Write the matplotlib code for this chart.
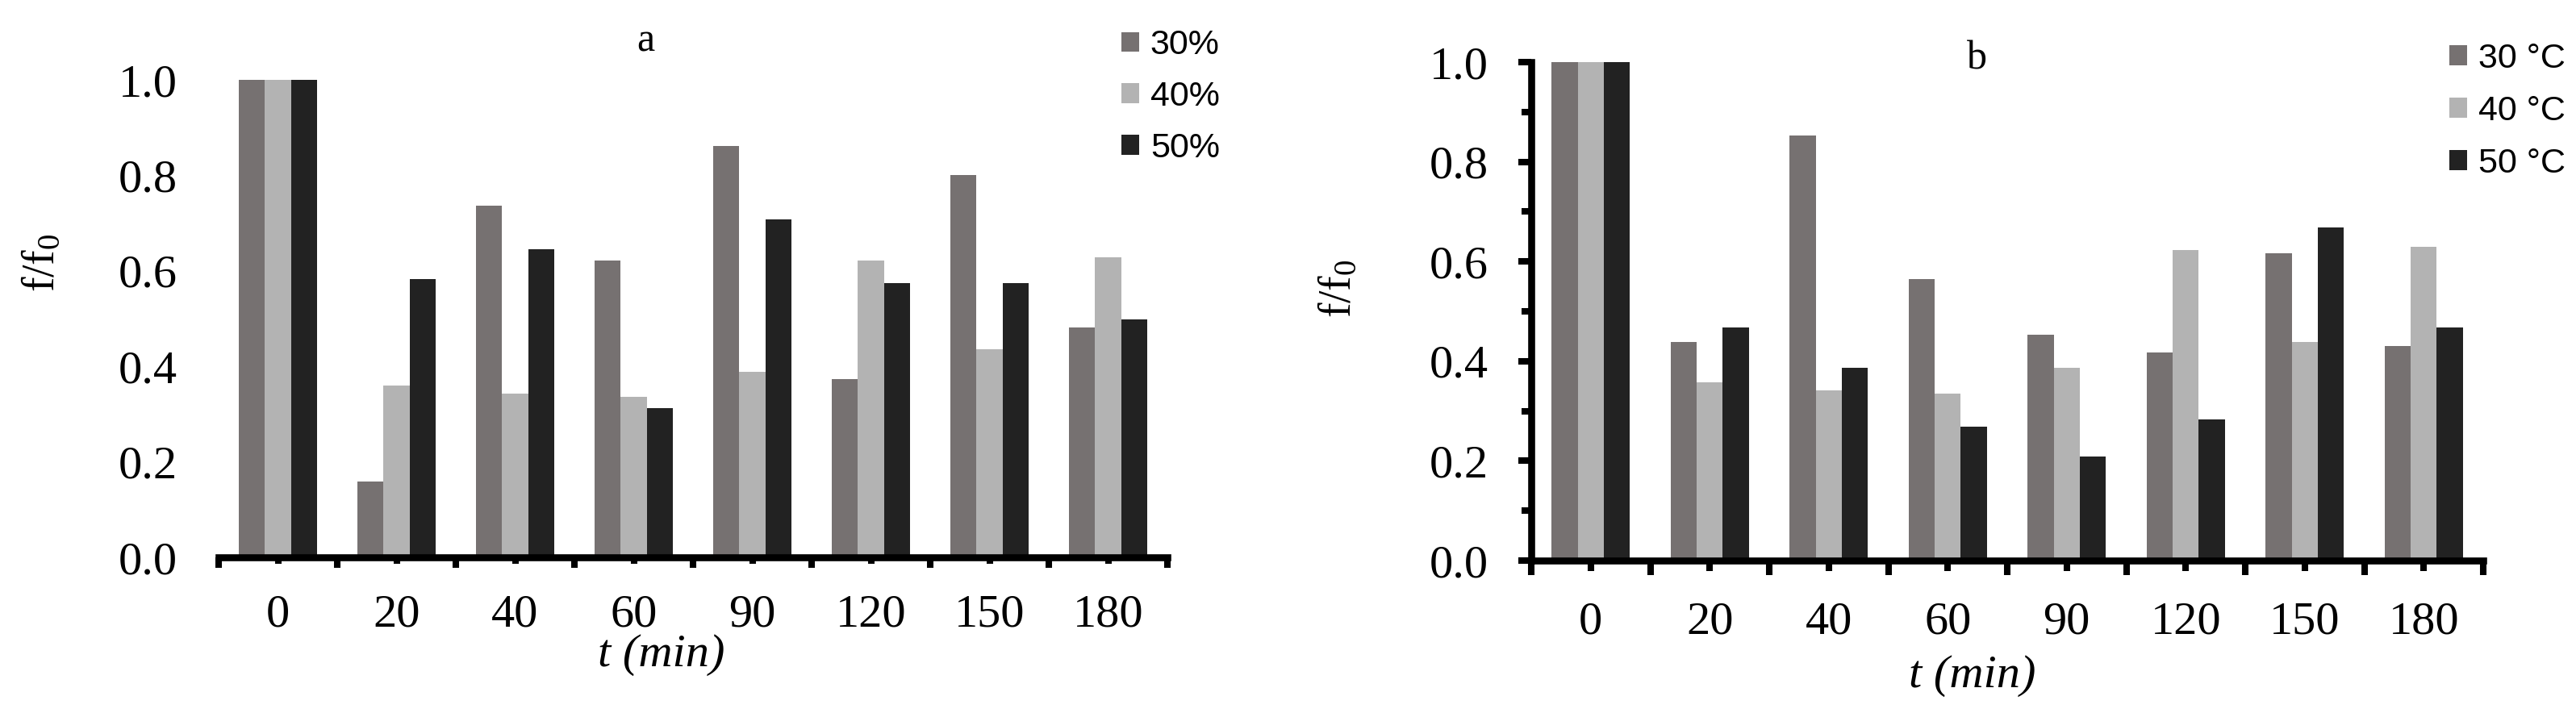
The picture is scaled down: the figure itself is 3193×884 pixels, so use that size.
import numpy as np
import matplotlib
matplotlib.use("Agg")
import matplotlib.pyplot as plt
from matplotlib.ticker import FixedLocator, NullFormatter

# ---------------- data ----------------
categories = ['0', '20', '40', '60', '90', '120', '150', '180']

a_labels = ['30%', '40%', '50%']
a_30 = [1.0, 0.158, 0.737, 0.621, 0.861, 0.374, 0.800, 0.482]
a_40 = [1.0, 0.359, 0.343, 0.336, 0.389, 0.621, 0.436, 0.629]
a_50 = [1.0, 0.583, 0.645, 0.313, 0.707, 0.575, 0.575, 0.498]

b_labels = ['30 °C', '40 °C', '50 °C']
b_30 = [1.0, 0.439, 0.853, 0.564, 0.453, 0.417, 0.617, 0.431]
b_40 = [1.0, 0.357, 0.342, 0.335, 0.387, 0.623, 0.439, 0.630]
b_50 = [1.0, 0.468, 0.387, 0.268, 0.209, 0.283, 0.668, 0.468]

yticks = [0.0, 0.2, 0.4, 0.6, 0.8, 1.0]
ytick_labels = ['0.0', '0.2', '0.4', '0.6', '0.8', '1.0']

# ---------------- style ----------------
colors = ['#767171', '#b3b3b3', '#222222']
SERIF = 'Liberation Serif'
SANS = 'Liberation Sans'
plt.rcParams['font.family'] = SERIF
plt.rcParams['mathtext.fontset'] = 'custom'
plt.rcParams['mathtext.rm'] = SERIF
plt.rcParams['mathtext.it'] = SERIF + ':italic'

W, H = 3193, 884
fig = plt.figure(figsize=(W / 100, H / 100), dpi=100)

def fx(px):
    return px / W

def fy(py):
    return 1 - py / H

TICK_FS = 42
LEG_FS = 31
SPINE_LW = 6.2
TICK_W = 5.8

x = np.arange(len(categories))
bw = 0.22


def draw_bars(ax, series, labels):
    conts = []
    for i, (vals, lab) in enumerate(zip(series, labels)):
        c = ax.bar(x + (i - 1) * bw, vals, width=bw, color=colors[i],
                   edgecolor='none', linewidth=0, label=lab, zorder=2)
        conts.append(c)
    ax.set_xlim(-0.5, len(categories) - 0.5)
    ax.set_ylim(0, 1.0)
    ax.set_xticks(x)
    ax.set_xticklabels(categories, fontsize=TICK_FS, fontfamily=SERIF)
    ax.xaxis.set_minor_locator(FixedLocator(np.arange(-0.5, len(categories), 1.0)))
    ax.xaxis.set_minor_formatter(NullFormatter())
    for s in ['top', 'right']:
        ax.spines[s].set_visible(False)
    ax.spines['bottom'].set_linewidth(SPINE_LW)
    ax.spines['bottom'].set_zorder(3)
    ax.set_yticks(yticks)
    ax.set_yticklabels(ytick_labels, fontsize=TICK_FS, fontfamily=SERIF)
    return conts


# ---------------- panel a ----------------
axA = fig.add_axes([fx(271), fy(691), fx(1447 - 271), (691 - 99) / H])
contsA = draw_bars(axA, [a_30, a_40, a_50], a_labels)
axA.spines['left'].set_visible(False)
axA.tick_params(axis='x', which='major', length=5.8, width=TICK_W, pad=27, direction='out')
axA.tick_params(axis='x', which='minor', length=9.4, width=TICK_W, direction='out')
axA.tick_params(axis='y', which='both', length=0, pad=37)

# ---------------- panel b ----------------
axB = fig.add_axes([fx(1898), fy(695), fx(3078 - 1898), (695 - 77) / H])
contsB = draw_bars(axB, [b_30, b_40, b_50], b_labels)
axB.spines['left'].set_linewidth(SPINE_LW)
axB.spines['left'].set_zorder(3)
axB.yaxis.set_minor_locator(FixedLocator(np.arange(0.1, 1.0, 0.2)))
axB.yaxis.set_minor_formatter(NullFormatter())
axB.tick_params(axis='x', which='major', length=9.4, width=TICK_W, pad=27, direction='out')
axB.tick_params(axis='x', which='minor', length=13, width=TICK_W, direction='out')
axB.tick_params(axis='y', which='major', length=11.5, width=TICK_W, pad=26.6, direction='out')
axB.tick_params(axis='y', which='minor', length=8.6, width=TICK_W, direction='out')

# ---------------- titles / labels ----------------
fig.text(fx(800), fy(51), 'a', ha='center', va='center', fontsize=36, fontfamily=SERIF)
fig.text(fx(2450), fy(73), 'b', ha='center', va='center', fontsize=36, fontfamily=SERIF)

fig.text(fx(820), fy(812), 't (min)', ha='center', va='center', fontsize=TICK_FS,
         fontfamily=SERIF, style='italic')
fig.text(fx(2445), fy(838), 't (min)', ha='center', va='center', fontsize=TICK_FS,
         fontfamily=SERIF, style='italic')

fig.text(fx(53), fy(326), 'f/f$_0$', ha='center', va='center', rotation=90,
         fontsize=40, fontfamily=SERIF)
fig.text(fx(1660), fy(358), 'f/f$_0$', ha='center', va='center', rotation=90,
         fontsize=40, fontfamily=SERIF)

# ---------------- legends ----------------
legA = axA.legend(handles=contsA, labels=a_labels, loc='center left',
                  bbox_to_anchor=(fx(1390), fy(120)), bbox_transform=fig.transFigure,
                  frameon=False, handlelength=0.5, handleheight=0.5, handletextpad=0.33,
                  labelspacing=0.55, borderpad=0, borderaxespad=0,
                  prop={'family': SANS, 'size': LEG_FS})
legB = axB.legend(handles=contsB, labels=b_labels, loc='center left',
                  bbox_to_anchor=(fx(3036), fy(138)), bbox_transform=fig.transFigure,
                  frameon=False, handlelength=0.5, handleheight=0.5, handletextpad=0.33,
                  labelspacing=0.58, borderpad=0, borderaxespad=0,
                  prop={'family': SANS, 'size': LEG_FS})

fig.savefig('out.png', dpi=100)
